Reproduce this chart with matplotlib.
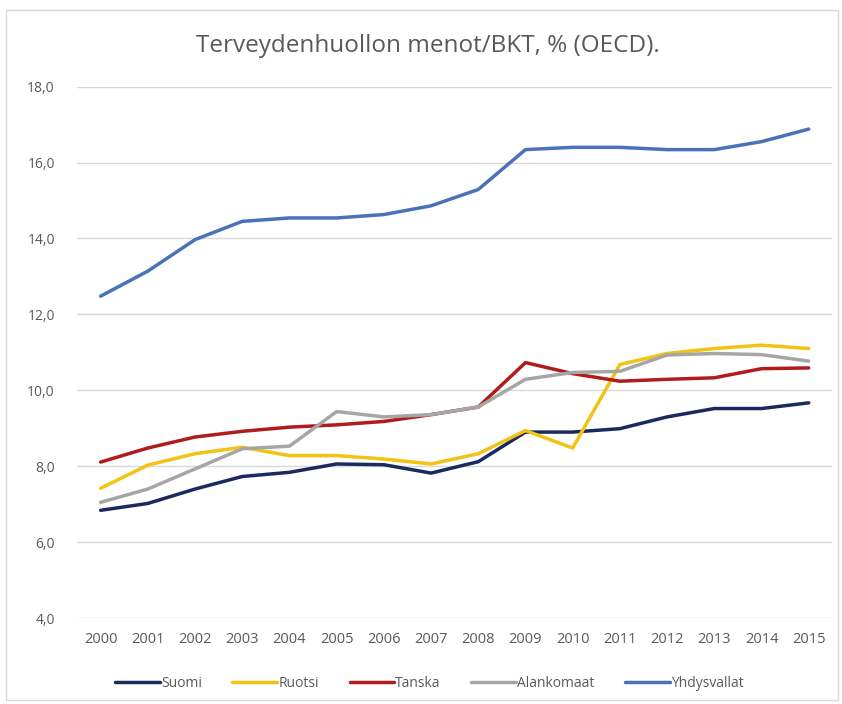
import matplotlib
matplotlib.use("Agg")
import matplotlib.pyplot as plt
from matplotlib.patches import Rectangle

years = [str(y) for y in range(2000, 2016)]
suomi = [6.84, 7.02, 7.40, 7.73, 7.84, 8.06, 8.04, 7.82, 8.12, 8.90, 8.90, 8.99, 9.30, 9.52, 9.52, 9.67]
ruotsi = [7.42, 8.03, 8.33, 8.50, 8.28, 8.28, 8.19, 8.06, 8.33, 8.94, 8.48, 10.68, 10.97, 11.10, 11.19, 11.10]
tanska = [8.11, 8.48, 8.77, 8.92, 9.03, 9.09, 9.18, 9.36, 9.56, 10.73, 10.44, 10.24, 10.29, 10.33, 10.57, 10.59]
alankomaat = [7.05, 7.40, 7.93, 8.46, 8.53, 9.44, 9.30, 9.36, 9.56, 10.29, 10.47, 10.50, 10.93, 10.97, 10.94, 10.77]
yhdysvallat = [12.48, 13.14, 13.97, 14.45, 14.54, 14.54, 14.63, 14.86, 15.29, 16.34, 16.40, 16.40, 16.34, 16.34, 16.55, 16.88]

series = [
    ("Suomi", suomi, "#1a2a5e"),
    ("Ruotsi", ruotsi, "#f2c314"),
    ("Tanska", tanska, "#b01c1c"),
    ("Alankomaat", alankomaat, "#a6a6a6"),
    ("Yhdysvallat", yhdysvallat, "#4a72b8"),
]

font = ["Open Sans", "DejaVu Sans"]
plt.rcParams["font.family"] = font
txt = "#595959"

fig = plt.figure(figsize=(8.42, 7.04), dpi=100)
ax = fig.add_axes([0.0915, 0.122, 0.897, 0.755])

x = list(range(len(years)))
for name, vals, col in series:
    ax.plot(x, vals, color=col, lw=2.5, label=name, solid_capstyle="round")

ax.set_ylim(4, 18)
ax.set_xlim(-0.5, len(years) - 0.5)
yt = [4, 6, 8, 10, 12, 14, 16, 18]
ax.set_yticks(yt)
ax.set_yticklabels([f"{v:.1f}".replace(".", ",") for v in yt], color=txt, fontsize=10)
ax.set_xticks(x)
ax.set_xticklabels(years, color=txt, fontsize=10.5)
ax.tick_params(length=0, pad=16)
ax.tick_params(axis="x", pad=10)
ax.grid(axis="y", color="#d9d9d9", lw=1)
ax.set_axisbelow(True)
for s in ax.spines.values():
    s.set_visible(False)

fig.text(0.508, 0.934, "Terveydenhuollon menot/BKT, % (OECD).", ha="center", va="center",
         fontsize=17.5, color=txt)

leg = fig.legend(loc="center", bbox_to_anchor=(0.51, 0.029), ncol=5, frameon=False,
                 fontsize=10, handlelength=3.2, handletextpad=0.1, columnspacing=2.2)
for t in leg.get_texts():
    t.set_color(txt)

fig.patches.append(Rectangle((6 / 842, 0.005), 832 / 842, 1 - 10 / 704 - 0.005,
                             transform=fig.transFigure, fill=False, ec="#d9d9d9", lw=1))

fig.savefig("out.png", dpi=100)
